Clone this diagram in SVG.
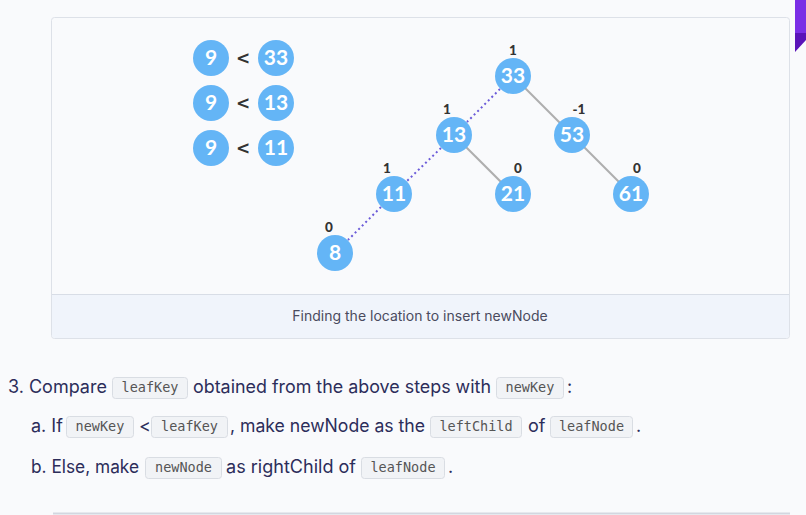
<svg xmlns="http://www.w3.org/2000/svg" width="806" height="515" viewBox="0 0 806 515">
<defs>
<style>
.node circle{fill:#64b5f6;}
.node text{font-family:Lato,"Open Sans",sans-serif;font-weight:bold;font-size:21px;fill:#fff;text-anchor:middle;}
.bal{font-family:Lato,"Open Sans",sans-serif;font-weight:900;font-size:13.5px;fill:#333;text-anchor:middle;}
.lt{font-family:"DejaVu Sans",sans-serif;font-weight:bold;font-size:17px;fill:#333;text-anchor:middle;}
.solid{stroke:#aeaeae;stroke-width:2;fill:none;}
.dot{stroke:#6b5bd9;stroke-width:2;stroke-dasharray:2 3;fill:none;}
.body{font-family:Inter,"Noto Sans",sans-serif;font-size:18px;fill:#2c2d5a;}
.code rect{fill:#f1f3f6;stroke:#d9dde3;stroke-width:1;}
.code text{font-family:"DejaVu Sans Mono","Liberation Mono",monospace;font-size:13.5px;fill:#555;text-anchor:middle;}
.cap{font-family:Inter,"Noto Sans",sans-serif;font-size:14px;fill:#4a4b5e;text-anchor:middle;}
</style>
</defs>
<rect width="806" height="515" fill="#f9fafc"/>
<g id="corner">
<rect x="795" y="0" width="11" height="34" fill="#7a2ee6"/>
<polygon points="795,33 806,33 806,40 795,52" fill="#5a13b8"/>
</g>
<g id="card">
<rect x="51.5" y="17.5" width="738" height="321" rx="3" fill="#f9fafc" stroke="#dde1e8"/>
<path d="M52,294.5 H789 V335 a3,3 0 0 1 -3,3 H55 a3,3 0 0 1 -3,-3 Z" fill="#f0f4fb"/>
<line x1="52" y1="294.5" x2="789" y2="294.5" stroke="#d8dde6"/>
<text class="cap" x="420" y="321">Finding the location to insert newNode</text>
</g>
<g id="connectors">
<line class="solid" x1="513" y1="76" x2="572" y2="135"/>
<line class="solid" x1="454" y1="135" x2="513" y2="194"/>
<line class="solid" x1="572" y1="135" x2="631" y2="194"/>
<line class="dot" x1="500" y1="89" x2="467" y2="122"/>
<line class="dot" x1="441" y1="148" x2="407" y2="181"/>
<line class="dot" x1="381" y1="207" x2="348" y2="240"/>
</g>
<g id="compare">
<g class="node" id="c9a"><circle cx="211" cy="58" r="18"/><text x="211" y="65">9</text></g>
<text class="lt" x="243" y="64">&lt;</text>
<g class="node" id="c33"><circle cx="276" cy="58" r="18"/><text x="276" y="65">33</text></g>
<g class="node" id="c9b"><circle cx="211" cy="103" r="18"/><text x="211" y="110">9</text></g>
<text class="lt" x="243" y="109">&lt;</text>
<g class="node" id="c13"><circle cx="276" cy="103" r="18"/><text x="276" y="110">13</text></g>
<g class="node" id="c9c"><circle cx="211" cy="148" r="18"/><text x="211" y="155">9</text></g>
<text class="lt" x="243" y="154">&lt;</text>
<g class="node" id="c11"><circle cx="276" cy="148" r="18"/><text x="276" y="155">11</text></g>
</g>
<g class="node" id="n33"><circle cx="513" cy="76" r="18"/><text x="513" y="83">33</text></g>
<g class="node" id="n13"><circle cx="454" cy="135" r="18"/><text x="454" y="142">13</text></g>
<g class="node" id="n53"><circle cx="572" cy="135" r="18"/><text x="572" y="142">53</text></g>
<g class="node" id="n11"><circle cx="394" cy="194" r="18"/><text x="394" y="201">11</text></g>
<g class="node" id="n21"><circle cx="513" cy="194" r="18"/><text x="513" y="201">21</text></g>
<g class="node" id="n61"><circle cx="631" cy="194" r="18"/><text x="631" y="201">61</text></g>
<g class="node" id="n8"><circle cx="335" cy="253" r="18"/><text x="335" y="260">8</text></g>
<g id="balances">
<text class="bal" x="513" y="55">1</text>
<text class="bal" x="447" y="114">1</text>
<text class="bal" x="579" y="114">-1</text>
<text class="bal" x="387" y="173">1</text>
<text class="bal" x="518" y="173">0</text>
<text class="bal" x="637" y="173">0</text>
<text class="bal" x="329" y="232">0</text>
</g>
<g id="steps">
<text class="body" x="8" y="393">3. Compare</text>
<g class="code"><rect x="112.5" y="377.5" width="75" height="21" rx="3"/><text x="150" y="392">leafKey</text></g>
<text class="body" x="193" y="393" textLength="298" lengthAdjust="spacingAndGlyphs">obtained from the above steps with</text>
<g class="code"><rect x="496.5" y="377.5" width="67" height="21" rx="3"/><text x="530" y="392">newKey</text></g>
<text class="body" x="567" y="393">:</text>

<text class="body" x="31" y="432">a. If</text>
<g class="code"><rect x="66.5" y="416.5" width="67" height="21" rx="3"/><text x="100" y="431">newKey</text></g>
<text class="body" x="139" y="432">&lt;</text>
<g class="code"><rect x="151.5" y="416.5" width="76" height="21" rx="3"/><text x="189.5" y="431">leafKey</text></g>
<text class="body" x="230" y="432" textLength="195" lengthAdjust="spacingAndGlyphs">, make newNode as the</text>
<g class="code"><rect x="430.5" y="416.5" width="91" height="21" rx="3"/><text x="476" y="431">leftChild</text></g>
<text class="body" x="528" y="432">of</text>
<g class="code"><rect x="550.5" y="416.5" width="82" height="21" rx="3"/><text x="591.5" y="431">leafNode</text></g>
<text class="body" x="636" y="432">.</text>

<text class="body" x="31" y="473" textLength="108" lengthAdjust="spacingAndGlyphs">b. Else, make</text>
<g class="code"><rect x="145.5" y="457.5" width="76" height="21" rx="3"/><text x="183.5" y="472">newNode</text></g>
<text class="body" x="226" y="473" textLength="130" lengthAdjust="spacingAndGlyphs">as rightChild of</text>
<g class="code"><rect x="361.5" y="457.5" width="83" height="21" rx="3"/><text x="403" y="472">leafNode</text></g>
<text class="body" x="448" y="473">.</text>
</g>
<line x1="53" y1="513.5" x2="790" y2="513.5" stroke="#d3d7e0" stroke-width="2"/>
</svg>
